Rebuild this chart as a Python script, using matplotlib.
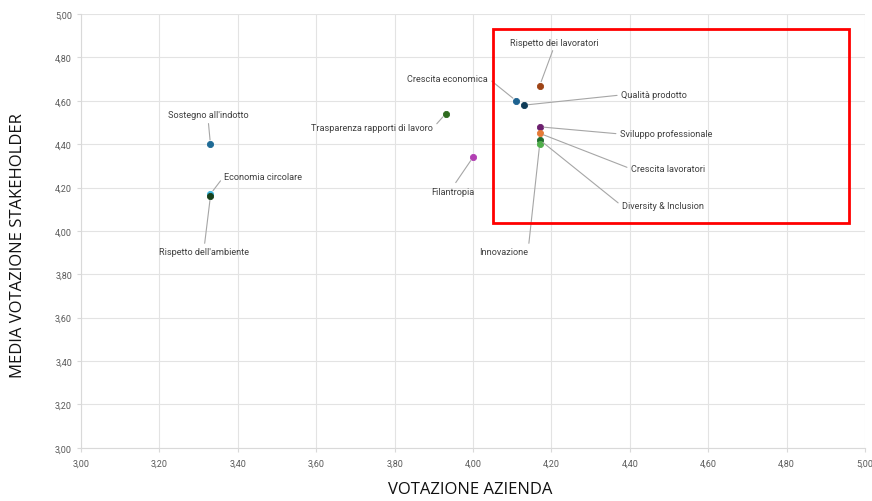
import matplotlib.pyplot as plt
from matplotlib.patches import Rectangle

# ---------- data ----------
temi = ["Sostegno all'indotto", "Economia circolare", "Rispetto dell'ambiente",
        "Trasparenza rapporti di lavoro", "Filantropia", "Crescita economica",
        "Qualità prodotto", "Rispetto dei lavoratori", "Sviluppo professionale",
        "Crescita lavoratori", "Diversity & Inclusion", "Innovazione"]
voto_azienda = [3.33, 3.33, 3.33, 3.93, 4.00, 4.11, 4.13, 4.17, 4.17, 4.17, 4.17, 4.17]
voto_stakeholder = [4.40, 4.17, 4.16, 4.54, 4.34, 4.60, 4.58, 4.67, 4.48, 4.45, 4.42, 4.40]
colori = ["#1f6b96", "#3fb6dc", "#17401a", "#2e6b1e", "#b23fb3", "#1d6290",
          "#0e3b57", "#9e4416", "#6c1f6e", "#e57a36", "#1f6c2c", "#4fae4a"]

# label position (data units), alignment, and where the leader leaves the text
etichette = [
    (3.324, 4.535, "center", (0.5, 0.0)),
    (3.365, 4.253, "left", (0.0, 0.5)),
    (3.314, 3.903, "center", (0.5, 1.0)),
    (3.898, 4.475, "right", (1.0, 0.5)),
    (3.949, 4.184, "center", (0.5, 1.0)),
    (4.038, 4.705, "right", (1.0, 0.5)),
    (4.378, 4.627, "left", (0.0, 0.5)),
    (4.207, 4.871, "center", (0.5, 0.0)),
    (4.375, 4.447, "left", (0.0, 0.5)),
    (4.403, 4.286, "left", (0.0, 0.5)),
    (4.380, 4.115, "left", (0.0, 0.5)),
    (4.140, 3.903, "right", (1.0, 0.5)),
]

ticks = [3.0 + 0.2 * i for i in range(11)]

narrow = ["Roboto", "DejaVu Sans"]

fig = plt.figure(figsize=(8.72, 5.02), dpi=100)
ax = fig.add_axes([0.093, 0.106, 0.899, 0.864])

for x, y, c in zip(voto_azienda, voto_stakeholder, colori):
    ax.scatter(x, y, s=20, color=c, edgecolors=c, linewidths=0.6, zorder=3)

for nome, x, y, (tx, ty, ha, rel) in zip(temi, voto_azienda, voto_stakeholder, etichette):
    ax.annotate(nome, xy=(x, y), xytext=(tx, ty), ha=ha, va="center",
                fontsize=6.6, color="#404040", family=narrow,
                arrowprops=dict(arrowstyle="-", color="#a6a6a6", lw=0.8,
                                relpos=rel, shrinkA=1, shrinkB=3),
                zorder=4)

# highlight box around the top-right cluster
ax.add_patch(Rectangle((4.051, 4.037), 0.908, 0.894, fill=False,
                       edgecolor="#ff0000", lw=2, zorder=5))

ax.set_xlim(3, 5)
ax.set_ylim(3, 5)
ax.set_xticks(ticks)
ax.set_yticks(ticks)
lab = [f"{t:.2f}".replace(".", ",") for t in ticks]
ax.set_xticklabels(lab, family=narrow)
ax.set_yticklabels(lab, family=narrow)
ax.tick_params(colors="#d9d9d9", labelcolor="#595959", labelsize=6.5, length=3, width=0.8)
ax.tick_params(axis="x", pad=5)
ax.grid(True, color="#e3e3e3", lw=0.8)
ax.set_axisbelow(True)
for s in ("top", "right"):
    ax.spines[s].set_visible(False)
for s in ("left", "bottom"):
    ax.spines[s].set_color("#d9d9d9")

fig.text(0.539, 0.024, "VOTAZIONE AZIENDA", fontsize=12, family=["Open Sans", "DejaVu Sans"],
         color="#111111", ha="center", va="center")
fig.text(0.021, 0.51, "MEDIA VOTAZIONE STAKEHOLDER", fontsize=12, family=["Open Sans", "DejaVu Sans"],
         color="#111111", ha="center", va="center", rotation=90)

fig.savefig("out.png", dpi=100)
